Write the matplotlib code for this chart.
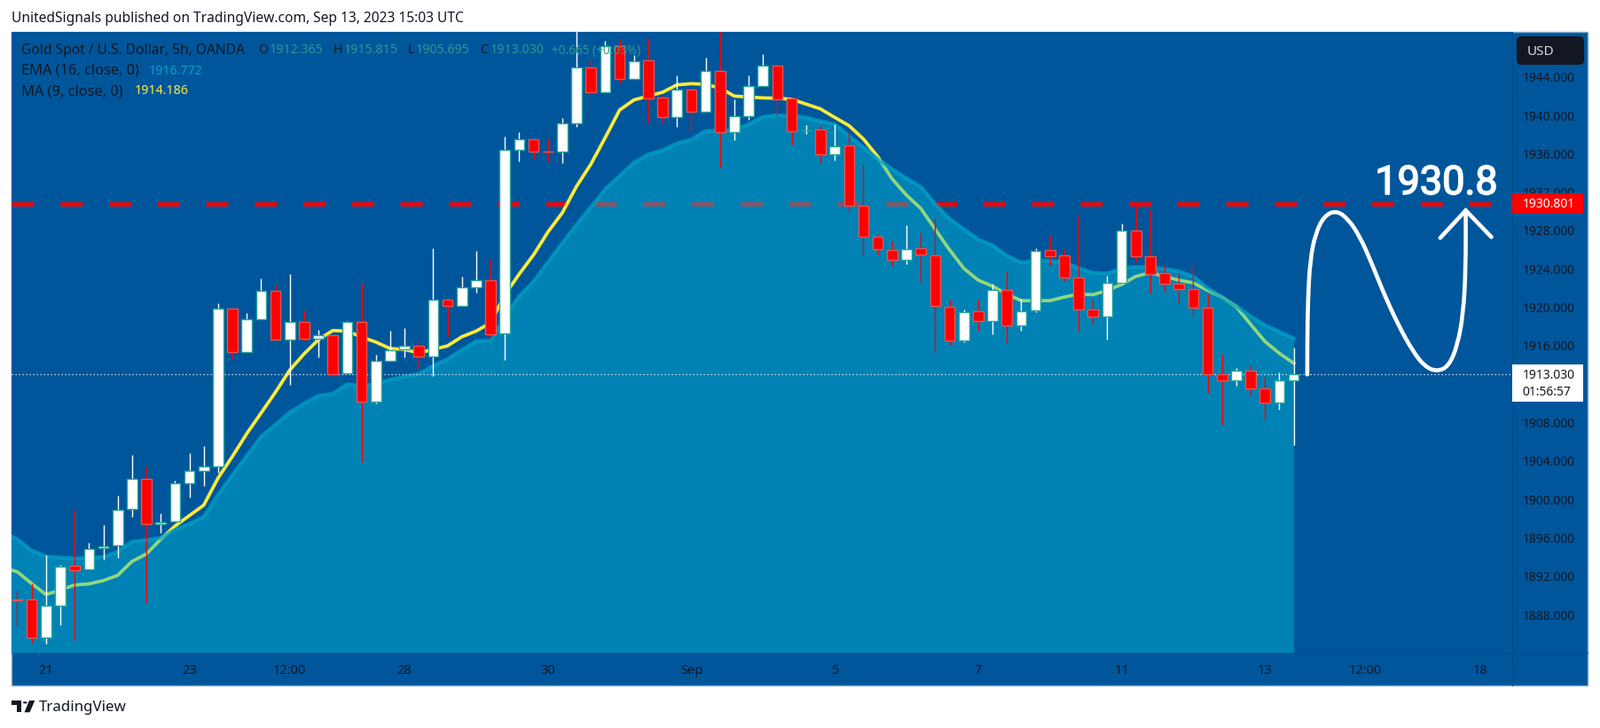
import numpy as np
import matplotlib
matplotlib.use("Agg")
import matplotlib.pyplot as plt
import matplotlib.patheffects as pe
from matplotlib.lines import Line2D
from matplotlib.patches import Circle, FancyBboxPatch, PathPatch, Polygon, Rectangle
from matplotlib.path import Path

plt.rcParams["font.family"] = "Noto Sans"

# candles, oldest first
opens = [1889.62, 1889.55, 1885.58, 1888.97, 1893.06, 1892.69, 1894.91, 1895.18, 1898.97, 1902.17,
         1897.40, 1897.71, 1901.71, 1902.94, 1903.40, 1919.84, 1915.37, 1918.79, 1921.68, 1916.67,
         1918.45, 1916.76, 1917.10, 1913.10, 1918.45, 1910.14, 1914.39, 1915.59, 1916.02, 1914.85,
         1920.76, 1920.17, 1922.11, 1922.85, 1917.25, 1936.36, 1937.47, 1936.24, 1936.18, 1939.13,
         1944.95, 1942.43, 1947.23, 1943.81, 1945.69, 1941.81, 1939.84, 1942.64, 1940.40, 1944.58,
         1938.21, 1939.87, 1943.07, 1945.14, 1941.72, 1938.43, 1938.49, 1935.90, 1936.83, 1930.55,
         1927.32, 1926.00, 1924.92, 1926.12, 1925.44, 1920.09, 1916.52, 1919.56, 1918.55, 1921.84,
         1918.09, 1919.66, 1925.93, 1925.38, 1923.07, 1919.75, 1919.07, 1922.52, 1927.97, 1925.29,
         1923.53, 1922.43, 1921.93, 1919.99, 1913.01, 1912.36, 1913.44, 1911.53, 1910.05, 1912.365]
highs = [1890.47, 1891.24, 1894.17, 1893.15, 1898.88, 1895.49, 1897.34, 1900.38, 1904.63, 1903.46,
         1898.54, 1901.95, 1904.82, 1905.56, 1920.39, 1919.93, 1919.37, 1923.01, 1922.33, 1923.47,
         1919.68, 1917.65, 1917.10, 1918.57, 1922.45, 1915.07, 1917.56, 1917.84, 1916.39, 1926.15,
         1920.85, 1923.19, 1925.87, 1925.01, 1937.78, 1938.21, 1937.53, 1937.60, 1939.69, 1949.50,
         1945.72, 1947.75, 1947.81, 1946.31, 1948.00, 1942.15, 1944.15, 1942.64, 1946.00, 1949.50,
         1941.66, 1944.15, 1946.37, 1945.35, 1941.84, 1938.98, 1938.86, 1939.07, 1938.30, 1934.83,
         1927.63, 1926.92, 1928.55, 1927.84, 1929.29, 1920.76, 1919.75, 1920.76, 1922.46, 1923.75,
         1920.86, 1926.15, 1927.44, 1926.06, 1929.69, 1920.76, 1923.29, 1928.70, 1930.77, 1930.21,
         1924.36, 1923.60, 1924.55, 1921.44, 1915.13, 1913.69, 1913.96, 1912.76, 1913.22, 1915.815]
lows = [1886.84, 1885.09, 1885.00, 1886.93, 1885.33, 1892.69, 1893.77, 1893.95, 1898.17, 1889.24,
        1896.54, 1897.71, 1900.23, 1901.40, 1902.79, 1914.63, 1915.37, 1918.79, 1916.60, 1911.93,
        1916.45, 1914.79, 1912.85, 1913.10, 1903.92, 1909.99, 1914.39, 1914.79, 1913.56, 1912.85,
        1917.00, 1920.17, 1921.56, 1916.79, 1914.51, 1935.23, 1935.44, 1935.23, 1935.01, 1938.83,
        1942.24, 1942.43, 1943.32, 1943.81, 1939.13, 1939.13, 1938.80, 1938.37, 1940.40, 1934.58,
        1937.41, 1939.53, 1943.07, 1940.00, 1936.92, 1938.09, 1935.13, 1935.32, 1930.05, 1925.44,
        1925.53, 1924.30, 1924.49, 1922.67, 1915.38, 1916.09, 1916.39, 1917.53, 1917.22, 1916.30,
        1917.59, 1919.53, 1924.40, 1922.70, 1917.53, 1918.24, 1916.67, 1922.39, 1924.76, 1921.44,
        1921.59, 1920.46, 1919.01, 1911.13, 1907.74, 1911.87, 1910.82, 1908.30, 1909.34, 1905.695]
closes = [1889.54, 1885.58, 1888.97, 1893.03, 1892.66, 1894.88, 1895.15, 1898.94, 1902.17, 1897.40,
          1897.65, 1901.71, 1902.94, 1903.40, 1919.84, 1915.37, 1918.79, 1921.68, 1916.67, 1918.45,
          1916.76, 1917.07, 1913.07, 1918.45, 1910.14, 1914.39, 1915.56, 1916.02, 1914.85, 1920.76,
          1920.17, 1922.11, 1922.85, 1917.22, 1936.36, 1937.47, 1936.24, 1936.20, 1939.13, 1944.95,
          1942.43, 1947.23, 1943.81, 1945.66, 1941.78, 1939.84, 1942.64, 1940.40, 1944.58, 1938.21,
          1939.87, 1943.07, 1945.14, 1941.69, 1938.37, 1938.46, 1935.90, 1936.80, 1930.55, 1927.32,
          1926.03, 1924.92, 1926.09, 1925.47, 1920.12, 1916.52, 1919.53, 1918.55, 1921.84, 1918.09,
          1919.62, 1925.90, 1925.35, 1923.07, 1919.75, 1919.07, 1922.52, 1927.97, 1925.29, 1923.50,
          1922.43, 1921.93, 1919.99, 1913.01, 1912.36, 1913.44, 1911.53, 1910.05, 1912.36, 1913.03]

# indicators, these start one bar before the first candle
ema16 = [1896.60, 1895.86, 1894.69, 1894.07, 1893.95, 1893.86, 1893.92, 1894.01, 1894.57, 1895.61, 1895.77,
         1896.01, 1896.84, 1897.46, 1898.17, 1900.48, 1902.54, 1904.54, 1906.54, 1907.77, 1909.06,
         1909.99, 1910.79, 1911.00, 1911.99, 1911.83, 1911.99, 1912.48, 1912.79, 1913.07, 1913.93,
         1914.60, 1915.56, 1916.48, 1916.54, 1919.01, 1921.16, 1922.70, 1924.70, 1926.70, 1928.61,
         1930.45, 1932.30, 1933.69, 1935.07, 1935.93, 1936.36, 1937.07, 1937.47, 1938.37, 1938.40,
         1938.46, 1939.07, 1939.84, 1940.00, 1939.93, 1939.78, 1939.38, 1939.07, 1937.84, 1936.67,
         1935.44, 1934.39, 1933.44, 1932.55, 1930.77, 1929.23, 1928.15, 1927.07, 1926.46, 1925.38,
         1924.67, 1924.86, 1924.86, 1924.67, 1924.09, 1923.60, 1923.53, 1924.09, 1924.21, 1924.21,
         1924.00, 1923.75, 1923.23, 1921.99, 1921.07, 1920.15, 1919.07, 1918.15, 1917.47, 1916.772]
ma9 = [1892.90, 1892.47, 1891.24, 1890.10, 1890.57, 1891.09, 1891.21, 1891.55, 1892.10, 1893.55, 1894.32,
       1895.86, 1897.24, 1898.32, 1899.40, 1902.23, 1904.48, 1906.85, 1909.00, 1911.16, 1913.47,
       1915.16, 1916.64, 1917.59, 1917.53, 1916.91, 1916.39, 1915.71, 1915.62, 1915.25, 1915.62,
       1915.99, 1916.94, 1917.53, 1918.39, 1921.31, 1923.47, 1925.47, 1927.84, 1929.84, 1932.61,
       1934.92, 1937.69, 1940.55, 1941.60, 1942.00, 1942.40, 1943.17, 1943.29, 1943.23, 1942.83,
       1942.00, 1941.90, 1941.81, 1941.78, 1941.66, 1941.17, 1940.67, 1939.78, 1938.92, 1937.53,
       1935.69, 1933.38, 1931.69, 1930.30, 1928.15, 1926.00, 1924.06, 1922.83, 1922.21, 1921.38,
       1920.70, 1920.70, 1920.70, 1921.07, 1921.38, 1921.32, 1921.75, 1922.39, 1923.23, 1923.60,
       1923.23, 1922.83, 1922.55, 1921.78, 1921.07, 1920.06, 1918.24, 1916.45, 1915.22, 1914.186]

# hand drawn projection and arrow head (bar number, price)
sketch_x = [89.95, 89.95, 90.00, 90.15, 90.52, 91.14, 91.97, 92.79, 93.62, 94.44, 95.26, 96.30,
            97.33, 98.15, 98.98, 99.80, 100.42, 100.83, 101.00, 101.00]
sketch_y = [1913.01, 1916.30, 1920.92, 1924.92, 1927.69, 1929.54, 1930.09, 1929.23, 1927.38, 1924.61,
            1921.54, 1918.15, 1915.38, 1913.84, 1913.32, 1913.84, 1916.00, 1919.38, 1924.00, 1930.09]
head_x = [99.22, 101.00, 102.79]
head_y = [1927.23, 1930.09, 1927.32]

target_price = 1930.801
last_price = 1913.03

# 1912 sits behind the last price badge in the reference, so it is left out
price_ticks = [1888, 1892, 1896, 1900, 1904, 1908, 1916, 1920, 1924, 1928, 1932, 1936, 1940, 1944]
time_ticks = [2, 12, 19, 27, 37, 47, 57, 67, 77, 87, 94, 102]
time_labels = ["21", "23", "12:00", "28", "30", "Sep", "5", "7", "11", "13", "12:00", "18"]

W, H = 1804, 821
BG = "#00569B"
INK = "#131722"
TEAL = "#26A69A"
RED_EDGE = "#EF5350"
WORD_SIZE = 11.2
NUM_SIZE = 10.2


def fx(p):
    return p / W


def fy(p):
    return 1 - p / H


def ftext(x, y, s, color=INK, size=10, **kw):
    kw.setdefault("va", "center")
    return fig.text(fx(x), fy(y), s, color=color, fontsize=size, zorder=30, **kw)


fig = plt.figure(figsize=(W / 100, H / 100), dpi=100, facecolor="white")

# panel behind everything, with the price scale and time scale
fig.add_artist(Rectangle((fx(13.4), fy(773)), fx(1790 - 13.4), 737 / H, transform=fig.transFigure,
                         facecolor=BG, edgecolor="#7FA6C9", linewidth=1.0, zorder=-5))

ax = fig.add_axes([fx(13.4), fy(736), fx(1705 - 13.4), 700 / H], facecolor=BG)
ax.set_xlim(-0.377, 104.24)
ax.set_ylim(1884.05, 1948.68)
for s in ax.spines.values():
    s.set_visible(False)

n = len(opens)
bars = np.arange(n)
ind_x = np.arange(-1, n)

# target line and MA sit under the translucent EMA area
ax.plot([-0.377, 103.1], [target_price, target_price], color="#FF0000", lw=3.3,
        linestyle=(0, (5.43, 6.52)), dash_capstyle="butt", zorder=1)
ax.plot(ind_x, ma9, color="#FFEB3B", lw=2.7, zorder=1.5, solid_joinstyle="round")
ax.fill_between(ind_x, ema16, 1884.05, color="#00BED8", alpha=0.43, linewidth=0, zorder=2)
ax.plot(ind_x, ema16, color="#00A3C7", lw=3.0, alpha=0.75, zorder=2.1)

ax.plot([-0.377, 104.24], [last_price, last_price], color="white", lw=0.8,
        linestyle=(0, (1.2, 2.4)), zorder=3)

# candles
up = np.array(closes) >= np.array(opens)
for i in bars:
    wick = "white" if up[i] else "#FF0000"
    ax.vlines(i, lows[i], highs[i], color=wick, lw=1.0, zorder=4)
body_lo = np.minimum(opens, closes)
body_hi = np.maximum(opens, closes)
ax.bar(bars, body_hi - body_lo, bottom=body_lo, width=0.72,
       color=["white" if u else "#FF0000" for u in up],
       edgecolor=[TEAL if u else RED_EDGE for u in up], linewidth=1.0, zorder=5)

# projection
verts = [(sketch_x[0], sketch_y[0])]
codes = [Path.MOVETO]
for j in range(1, len(sketch_x) - 1):
    verts.append((sketch_x[j], sketch_y[j]))
    verts.append(((sketch_x[j] + sketch_x[j + 1]) / 2, (sketch_y[j] + sketch_y[j + 1]) / 2))
    codes += [Path.CURVE3, Path.CURVE3]
verts.append((sketch_x[-1], sketch_y[-1]))
codes.append(Path.LINETO)
ax.add_patch(PathPatch(Path(verts, codes), facecolor="none", edgecolor="white", lw=3.3,
                       capstyle="round", joinstyle="round", zorder=6))
ax.plot(head_x, head_y, color="white", lw=3.3, solid_capstyle="round", solid_joinstyle="miter", zorder=6)

# axis labels
ax.yaxis.tick_right()
ax.set_yticks(price_ticks)
ax.set_yticklabels([f"{p:.3f}" for p in price_ticks], fontsize=10, color=INK)
ax.tick_params(axis="y", length=0, pad=8.8)
ax.set_xticks(time_ticks)
ax.set_xticklabels(time_labels, fontsize=10.5, color=INK)
ax.tick_params(axis="x", length=0, pad=9.4)
for lab in ax.get_xticklabels():
    if lab.get_text() == "Sep":
        lab.set_fontweight("bold")

# scale separators
sep = "#044D8B"
fig.add_artist(Line2D([fx(1705), fx(1705)], [fy(773), fy(36)], color=sep, lw=0.8, zorder=-1))
fig.add_artist(Line2D([fx(13.4), fx(1790)], [fy(736), fy(736)], color=sep, lw=0.8, zorder=-1))

# header and legend
ftext(13.4, 21, "UnitedSignals published on TradingView.com, Sep 13, 2023 15:03 UTC", size=WORD_SIZE)
ftext(24, 57, "Gold Spot / U.S. Dollar, 5h, OANDA", size=WORD_SIZE)
val = "#2B9A92"
ftext(291.5, 57, "O", size=NUM_SIZE)
ftext(304, 57, "1912.365", color=val, size=NUM_SIZE)
ftext(376, 57, "H", size=NUM_SIZE)
ftext(388, 57, "1915.815", color=val, size=NUM_SIZE)
ftext(460, 57, "L", size=NUM_SIZE)
ftext(469, 57, "1905.695", color=val, size=NUM_SIZE)
ftext(541.5, 57, "C", size=NUM_SIZE)
ftext(553, 57, "1913.030", color=val, size=NUM_SIZE)
ftext(622, 57, "+0.665 (+0.03%)", color=val, size=9.8)
ftext(24, 80, "EMA (16, close, 0)", size=11.8)
ftext(168, 80, "1916.772", color="#00A3C7", size=NUM_SIZE)
ftext(24, 103, "MA (9, close, 0)", size=11.8)
ftext(152, 103, "1914.186", color="#FFEB3B", size=NUM_SIZE)

# price scale badges
fig.add_artist(FancyBboxPatch((fx(1712), fy(71)), fx(72), 28 / H, transform=fig.transFigure,
                              boxstyle="round,pad=0,rounding_size=0.002", mutation_aspect=2.2,
                              facecolor=INK, edgecolor=INK, linewidth=3, zorder=25))
ftext(1722, 58, "USD", color="#D8DBE2", size=11)
fig.add_artist(Rectangle((fx(1705), fy(241)), fx(80), 23 / H, transform=fig.transFigure,
                         facecolor="#FF0000", edgecolor="none", zorder=25))
ftext(1717, 230.5, f"{target_price:.3f}", color="white", size=10)
fig.add_artist(Rectangle((fx(1705), fy(453)), fx(80), 42 / H, transform=fig.transFigure,
                         facecolor="white", edgecolor="none", zorder=25))
ftext(1717, 423, f"{last_price:.3f}", size=10)
ftext(1716, 442, "01:56:57", size=10)

# big target label, regular face thickened a little
big = ftext(1619.5, 219, "1930.8", color="white", size=32.4, ha="center", va="baseline", family="Roboto")
big.set_path_effects([pe.withStroke(linewidth=1.2, foreground="white")])

# footer logo
t = fig.transFigure
fig.add_artist(Polygon([(fx(13.3), fy(790)), (fx(24), fy(790)), (fx(24), fy(803.3)), (fx(18.5), fy(803.3)),
                        (fx(18.5), fy(794.5)), (fx(13.3), fy(794.5))], transform=t, facecolor=INK, edgecolor="none"))
fig.add_artist(Circle((fx(28.3), fy(792.3)), 2.4 / W, transform=t, facecolor=INK, edgecolor="none"))
fig.add_artist(Polygon([(fx(33), fy(790)), (fx(39.3), fy(790)), (fx(33.5), fy(803.3)), (fx(27.5), fy(803.3))],
                       transform=t, facecolor=INK, edgecolor="none"))
ftext(44, 798, "TradingView", size=12.2)

fig.savefig("out.png", dpi=100, facecolor="white")
